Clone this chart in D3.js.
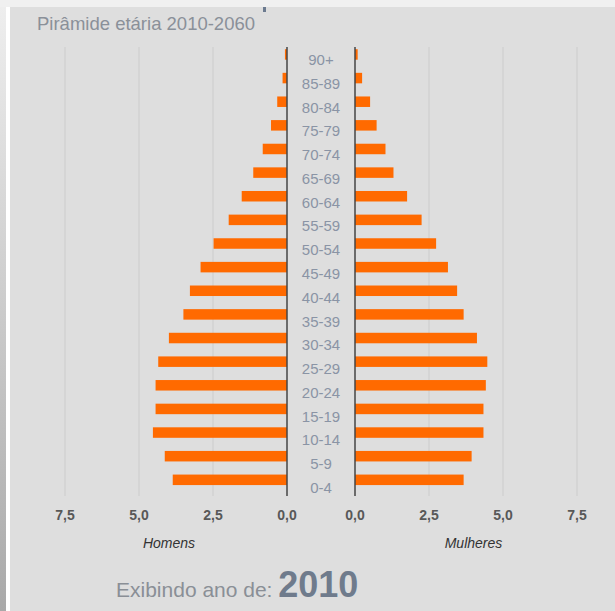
<!DOCTYPE html>
<html><head><meta charset="utf-8">
<script src="https://cdn.jsdelivr.net/npm/d3@7"></script>
<style>
html,body{margin:0;padding:0;background:#f0f0f0;}
svg{display:block;}
</style></head>
<body>
<svg id="c" width="615" height="611"></svg>
<script>
const ages = ["90+","85-89","80-84","75-79","70-74","65-69","60-64","55-59","50-54","45-49","40-44","35-39","30-34","25-29","20-24","15-19","10-14","5-9","0-4"];
const homens = [0.07,0.15,0.33,0.54,0.82,1.14,1.53,1.97,2.48,2.92,3.28,3.50,3.99,4.35,4.44,4.44,4.53,4.13,3.86];
const mulheres = [0.09,0.24,0.51,0.73,1.03,1.30,1.76,2.25,2.74,3.14,3.45,3.67,4.12,4.47,4.42,4.34,4.34,3.94,3.67];
const ticks = [0, 2.5, 5, 7.5];
const fmt = v => d3.format(".1f")(v).replace(".", ",");
const FONT = "Liberation Sans, Arial, sans-serif";

const svg = d3.select("#c");
// background panel
const grad = svg.append("defs").append("linearGradient").attr("id","lg").attr("x1",0).attr("y1",0).attr("x2",0).attr("y2",1);
grad.append("stop").attr("offset","0%").attr("stop-color","#eeeeee");
grad.append("stop").attr("offset","100%").attr("stop-color","#a9a9a9");
svg.append("rect").attr("x",0).attr("y",7).attr("width",6).attr("height",604).attr("fill","url(#lg)");
svg.append("rect").attr("x",6).attr("y",7).attr("width",4).attr("height",604).attr("fill","#ffffff");
svg.append("rect").attr("x",10).attr("y",7).attr("width",605).attr("height",604).attr("fill","#dedede");
// tiny fragment of a cut-off heading above
svg.append("rect").attr("x",263).attr("y",7).attr("width",3).attr("height",5).attr("fill","#6b7a8f");

svg.append("text").attr("x",37).attr("y",30).attr("font-family",FONT)
  .attr("font-size",18.5).attr("fill","#8a9099").text("Pirâmide etária 2010-2060");

const yTop = 47, yBottom = 496;
const xL = d3.scaleLinear().domain([0,7.5]).range([287,65]);
const xR = d3.scaleLinear().domain([0,7.5]).range([355,577]);
const y = d3.scaleBand().domain(ages).range([yTop,yBottom]);
const yLab = d3.scalePoint().domain(ages).range([65,493]);

// grid lines
const g = svg.append("g");
ticks.filter(t=>t>0).forEach(t=>{
  g.append("line").attr("x1",xL(t)).attr("x2",xL(t)).attr("y1",yTop).attr("y2",yBottom).attr("stroke","#cccccc").attr("stroke-width",1);
  g.append("line").attr("x1",xR(t)).attr("x2",xR(t)).attr("y1",yTop).attr("y2",yBottom).attr("stroke","#cccccc").attr("stroke-width",1);
});

// bars
const barH = 10.5, barOff = 2.2;
svg.append("g").selectAll("rect").data(ages).join("rect")
  .attr("x",(d,i)=>xL(homens[i])).attr("width",(d,i)=>xL(0)-xL(homens[i]))
  .attr("y",d=>y(d)+barOff).attr("height",barH).attr("fill","#ff6a00");
svg.append("g").selectAll("rect").data(ages).join("rect")
  .attr("x",xR(0)).attr("width",(d,i)=>xR(mulheres[i])-xR(0))
  .attr("y",d=>y(d)+barOff).attr("height",barH).attr("fill","#ff6a00");

// central axes
svg.append("line").attr("x1",xL(0)).attr("x2",xL(0)).attr("y1",yTop).attr("y2",yBottom).attr("stroke","#444").attr("stroke-width",1.5);
svg.append("line").attr("x1",xR(0)).attr("x2",xR(0)).attr("y1",yTop).attr("y2",yBottom).attr("stroke","#444").attr("stroke-width",1.5);

// age labels
svg.append("g").selectAll("text").data(ages).join("text")
  .attr("x",(xL(0)+xR(0))/2).attr("y",d=>yLab(d))
  .attr("text-anchor","middle").attr("font-family",FONT)
  .attr("font-size",15).attr("fill","#8a94a5").text(d=>d);

// tick labels
function tickText(x, t){
  svg.append("text").attr("x",x).attr("y",520).attr("text-anchor","middle")
    .attr("font-family",FONT).attr("font-size",14).attr("font-weight","bold").attr("fill","#585858")
    .text(fmt(t));
}
ticks.forEach(t=>{ tickText(xL(t), t); tickText(xR(t), t); });

svg.append("text").attr("x",169).attr("y",548).attr("text-anchor","middle").attr("font-family",FONT)
  .attr("font-size",14).attr("font-style","italic").attr("fill","#333").text("Homens");
svg.append("text").attr("x",473.5).attr("y",548).attr("text-anchor","middle").attr("font-family",FONT)
  .attr("font-size",14).attr("font-style","italic").attr("fill","#333").text("Mulheres");

const t = svg.append("text").attr("x",116).attr("y",597).attr("font-family",FONT).attr("fill","#8a8f96");
t.append("tspan").attr("font-size",21).text("Exibindo ano de: ");
t.append("tspan").attr("font-size",36).attr("font-weight","bold").attr("fill","#6f7b8c").text("2010");
</script>
</body></html>
